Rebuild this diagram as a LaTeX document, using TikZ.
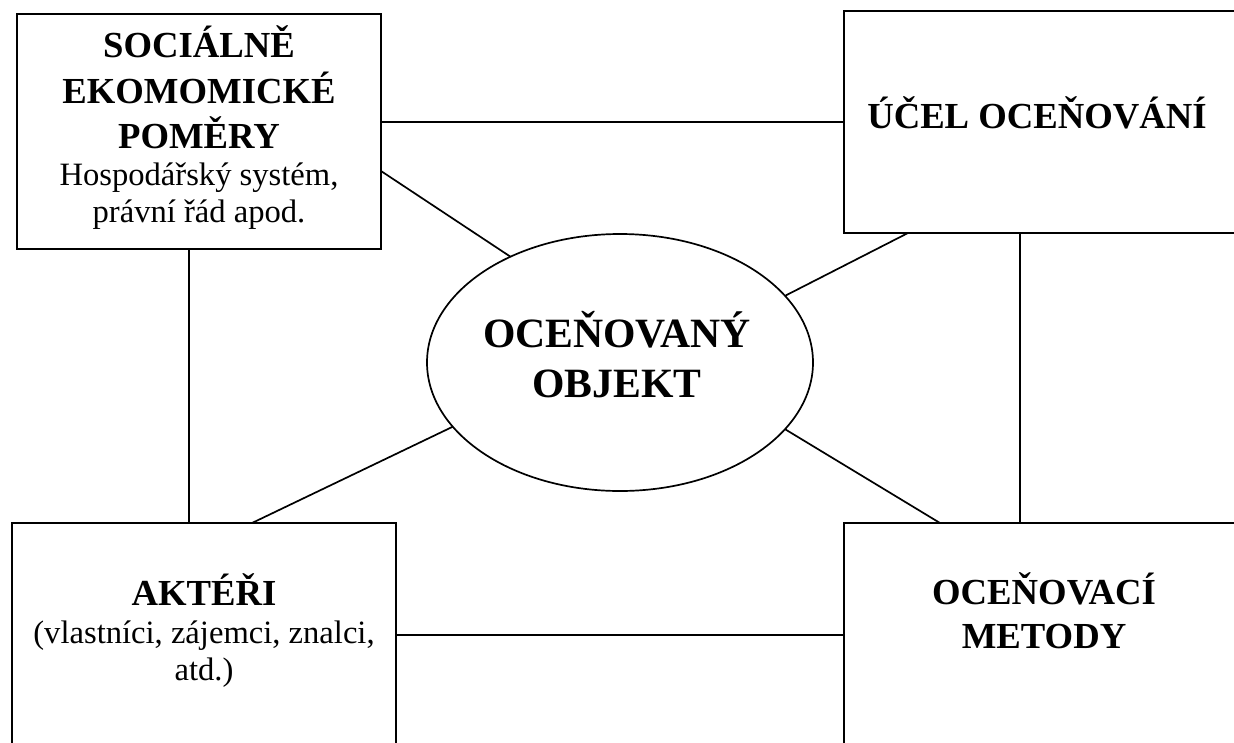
\documentclass[tikz,border=0pt]{standalone}
\usepackage{fontspec}
\setmainfont{Liberation Serif}
\usetikzlibrary{shapes.geometric}
\begin{document}
\begin{tikzpicture}[x=1pt,y=-1pt,
  box/.style={draw, line width=2pt, rectangle, inner sep=0pt, outer sep=0pt},
  oval/.style={draw, line width=1.7pt, ellipse, inner sep=0pt, outer sep=0pt},
  link/.style={line width=1.7pt},
  headb/.style={font=\fontsize{36.7}{44}\selectfont\bfseries, anchor=base, inner sep=0pt},
  bodyr/.style={font=\fontsize{32.6}{37.5}\selectfont, anchor=base, inner sep=0pt},
  objb/.style={font=\fontsize{41.7}{50}\selectfont\bfseries, anchor=base, inner sep=0pt}]
\clip (0,0) rectangle (1234,742);
\fill[white] (0,0) rectangle (1234,742);

% the four boxes and the central oval
\node[box, minimum width=364pt, minimum height=235pt] (tl) at (199,131.5) {};
\node[box, minimum width=396pt, minimum height=222pt] (tr) at (1042,122) {};
\node[box, minimum width=384pt, minimum height=237pt] (bl) at (204,641.5) {};
\node[box, minimum width=396pt, minimum height=237pt] (br) at (1042,641.5) {};
\node[oval, minimum width=386pt, minimum height=257pt] (obj) at (620,362.5) {};

% texts, one node per line, placed on their baselines
\node[headb] (tl1) at (199,57) {SOCIÁLNĚ};
\node[headb] (tl2) at (199,103) {EKOMOMICKÉ};
\node[headb] (tl3) at (199,148) {POMĚRY};
\node[bodyr] (tl4) at (199,185) {Hospodářský systém,};
\node[bodyr] (tl5) at (199,222) {právní řád apod.};

\node[headb] (tr1) at (1037,128) {ÚČEL OCEŇOVÁNÍ};

\node[headb] (bl1) at (204,605) {AKTÉŘI};
\node[bodyr] (bl2) at (204,643) {(vlastníci, zájemci, znalci,};
\node[bodyr] (bl3) at (204,680) {atd.)};

\node[headb] (br1) at (1044,604) {OCEŇOVACÍ};
\node[headb] (br2) at (1044,648) {METODY};

\node[objb] (ob1) at (617,347) {OCEŇOVANÝ};
\node[objb] (ob2) at (617,397) {OBJEKT};

% connectors
\draw[link] (tl.east |- tr.west) -- (tr.west);
\draw[link] ([yshift=6.5pt]bl.east) coordinate (h2) -- (h2 -| br.west);
\draw[link] ([xshift=-10pt]tl.south) coordinate (v1) -- (v1 |- bl.north);
\draw[link] ([xshift=-22pt]tr.south) coordinate (v2) -- (v2 |- br.north);
\draw[link] ([yshift=-39.5pt]tl.east) -- (obj.136.2);
\draw[link] ([xshift=-134pt]tr.south) -- (obj.22.1);
\draw[link] ([xshift=48pt]bl.north) -- (obj.201.8);
\draw[link] ([xshift=-102pt]br.north) -- (obj.338);
\end{tikzpicture}
\end{document}
